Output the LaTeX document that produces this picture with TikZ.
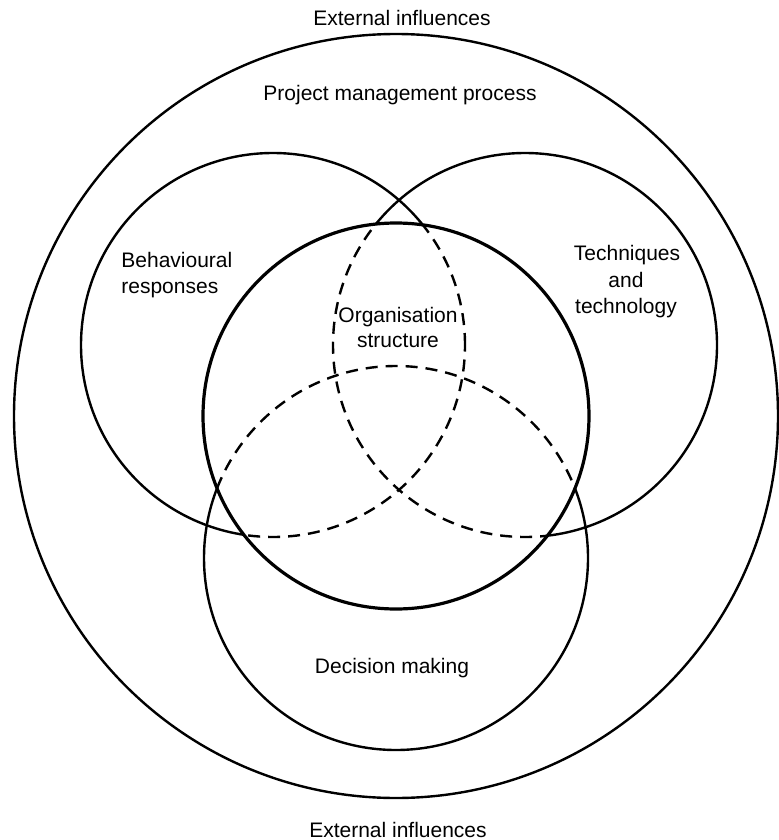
\documentclass[tikz,border=0pt]{standalone}
\usepackage{fontspec}
\setmainfont{Liberation Sans}
\begin{document}
\begin{tikzpicture}[x=0.5pt,y=-0.5pt,
  ring/.style={line width=1.2pt},
  core/.style={line width=1.6pt},
  hidden/.style={line width=1.2pt, dash pattern=on 6pt off 4pt},
  lbl/.style={font=\fontsize{10.5}{13}\selectfont, inner sep=0pt, anchor=base}]
\useasboundingbox (0,0) rectangle (778,840);
\coordinate (O) at (396,416);
\coordinate (L) at (273,345);
\coordinate (R) at (525,345);
\coordinate (D) at (396,558);
% outer circle
\draw[ring] (O) circle[radius=191pt];
% three circles, solid outside the core
\draw[ring] (L) circle[radius=96pt];
\draw[ring] (R) circle[radius=96pt];
\draw[ring] (D) circle[radius=96pt];
\fill[white] (O) circle[radius=96.5pt];
\begin{scope}
  \clip (O) circle[radius=96.5pt];
  \draw[hidden] (L) circle[radius=96pt];
  \draw[hidden] (R) circle[radius=96pt];
  \draw[hidden] (D) circle[radius=96pt];
\end{scope}
\draw[core] (O) circle[radius=96.5pt];
% labels
\node[lbl] (ext1) at (402,26) {External influences};
\node[lbl] (pmp) at (400,101) {Project management process};
\node[lbl, anchor=base west] (beh1) at (121,267) {Behavioural};
\node[lbl, anchor=base west] (beh2) at (121,293) {responses};
\node[lbl] (tec1) at (627,260) {Techniques};
\node[lbl] (tec2) at (626,287) {and};
\node[lbl] (tec3) at (626,313) {technology};
\node[lbl] (org1) at (398,322) {Organisation};
\node[lbl] (org2) at (398,347) {structure};
\node[lbl] (dec) at (392,673) {Decision making};
\node[lbl] (ext2) at (398,837) {External influences};
\end{tikzpicture}
\end{document}
